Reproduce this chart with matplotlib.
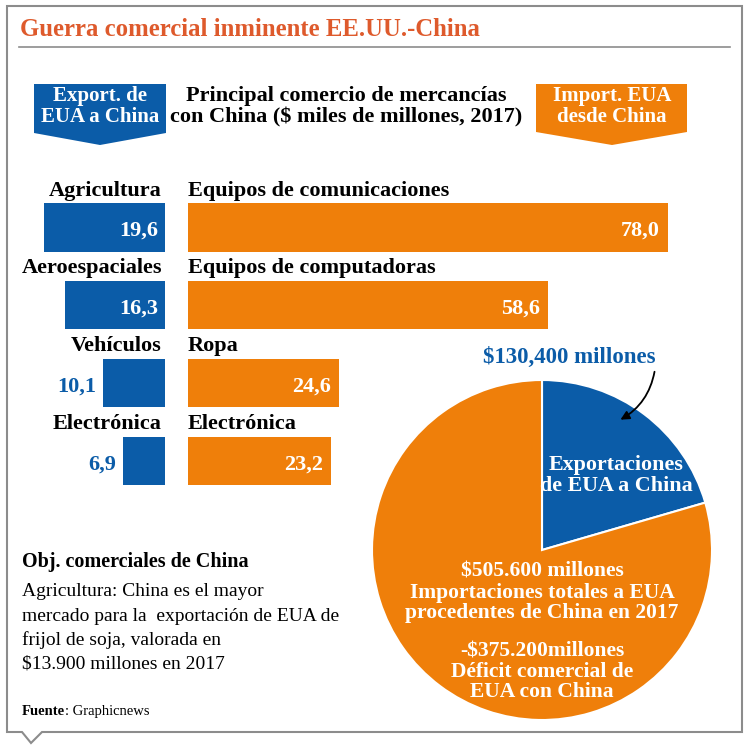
import matplotlib
matplotlib.use('Agg')
import matplotlib.pyplot as plt
from matplotlib.patches import Polygon

plt.rcParams['font.family'] = ['Liberation Serif', 'DejaVu Serif']

# datos
export_cats = ['Agricultura', 'Aeroespaciales', 'Vehículos', 'Electrónica']
export_vals = [19.6, 16.3, 10.1, 6.9]
import_cats = ['Equipos de comunicaciones', 'Equipos de computadoras', 'Ropa', 'Electrónica']
import_vals = [78.0, 58.6, 24.6, 23.2]
pie_vals = [130.4, 505.6]   # exportaciones EUA a China, importaciones desde China

BLUE = '#0B5CA8'
ORANGE = '#EF7F0A'
TITLE_RED = '#DE5A2C'
GRAY = '#8C8C8C'

W, H = 750, 745
SCALE = 6.15      # pixeles por mil millones
ROW_TOP, ROW_BOT = 188.6, 499.9


def px_rect(x0, y0, x1, y1):
    # caja en pixeles (origen arriba a la izquierda) -> fraccion de figura
    return [x0 / W, 1 - y1 / H, (x1 - x0) / W, (y1 - y0) / H]


def fmt(v):
    return f'{v:.1f}'.replace('.', ',')


fig = plt.figure(figsize=(W / 100, H / 100), dpi=100)

# barras de exportacion (eje invertido, crecen hacia la izquierda)
rows = list(range(len(export_cats)))
ax_exp = fig.add_axes(px_rect(165 - 25 * SCALE, ROW_TOP, 165, ROW_BOT))
ax_exp.barh(rows, export_vals, height=0.62, color=BLUE)
ax_exp.set_xlim(25, 0)
ax_exp.set_ylim(len(rows) - 0.5, -0.5)
ax_exp.axis('off')
for i, (cat, v) in enumerate(zip(export_cats, export_vals)):
    ax_exp.text(0.5, i - 0.41, cat, ha='right', va='baseline',
                fontsize=16, fontweight='bold')
    if v > 12:
        ax_exp.text(1.1, i + 0.04, fmt(v), ha='right', va='center',
                    fontsize=16, fontweight='bold', color='white')
    else:
        ax_exp.text(v + 1.1, i + 0.04, fmt(v), ha='right', va='center',
                    fontsize=16, fontweight='bold', color=BLUE)

# barras de importacion
ax_imp = fig.add_axes(px_rect(188, ROW_TOP, 188 + 85 * SCALE, ROW_BOT))
ax_imp.barh(rows, import_vals, height=0.62, color=ORANGE)
ax_imp.set_xlim(0, 85)
ax_imp.set_ylim(len(rows) - 0.5, -0.5)
ax_imp.axis('off')
for i, (cat, v) in enumerate(zip(import_cats, import_vals)):
    ax_imp.text(0, i - 0.41, cat, ha='left', va='baseline',
                fontsize=16, fontweight='bold')
    ax_imp.text(v - 1.3, i + 0.04, fmt(v), ha='right', va='center',
                fontsize=16, fontweight='bold', color='white')

# pastel
ax_pie = fig.add_axes(px_rect(372 - 3.4, 380 - 3.4, 712 + 3.4, 720 + 3.4))
ax_pie.pie(pie_vals, colors=[BLUE, ORANGE], startangle=90, counterclock=False,
           wedgeprops=dict(edgecolor='white', linewidth=1.5))
ax_pie.set_xlim(-1.02, 1.02)
ax_pie.set_ylim(-1.02, 1.02)
ax_pie.set_aspect('equal')

# capa de fondo en pixeles (encima, transparente)
bg = fig.add_axes([0, 0, 1, 1])
bg.set_xlim(0, W)
bg.set_ylim(H, 0)
bg.axis('off')

# marco con pico inferior
frame = Polygon([(7, 6), (742, 6), (742, 732), (42, 732), (31, 743), (22, 732), (7, 732)],
                closed=True, fill=False, edgecolor=GRAY, linewidth=1.5)
bg.add_patch(frame)

bg.text(20, 36, 'Guerra comercial inminente EE.UU.-China', fontsize=17.8,
        fontweight='bold', color=TITLE_RED, ha='left', va='baseline')
bg.plot([19, 730], [47, 47], color=GRAY, lw=1.2)

# encabezados
bg.add_patch(Polygon([(34, 84), (166, 84), (166, 133), (100, 145), (34, 133)],
                     closed=True, color=BLUE, lw=0))
bg.add_patch(Polygon([(536, 84), (687, 84), (687, 132), (612, 145), (536, 132)],
                     closed=True, color=ORANGE, lw=0))
for yb, s in [(101, 'Export. de'), (122, 'EUA a China')]:
    bg.text(100, yb, s, ha='center', va='baseline', fontsize=15,
            fontweight='bold', color='white')
for yb, s in [(101, 'Import. EUA'), (122, 'desde China')]:
    bg.text(612, yb, s, ha='center', va='baseline', fontsize=15,
            fontweight='bold', color='white')
for yb, s in [(101, 'Principal comercio de mercancías'),
              (122, 'con China ($ miles de millones, 2017)')]:
    bg.text(346, yb, s, ha='center', va='baseline', fontsize=16,
            fontweight='bold', color='black')

# textos del pastel
bg.text(569, 357, '$130,400 millones', ha='center', va='center',
        fontsize=16.5, fontweight='bold', color=BLUE)
bg.annotate('', xy=(618, 421), xytext=(655, 369),
            arrowprops=dict(arrowstyle='-|>', color='black', lw=1.3,
                            connectionstyle='arc3,rad=-0.25', mutation_scale=13))
for yc, s in [(465, 'Exportaciones'), (486, 'de EUA a China')]:
    bg.text(616, yc, s, ha='center', va='center', fontsize=15.8,
            fontweight='bold', color='white')
for yc, s in [(572, '$505.600 millones'), (593, 'Importaciones totales a EUA'),
              (613, 'procedentes de China en 2017'), (652, '-$375.200millones'),
              (672, 'Déficit comercial de'), (692, 'EUA con China')]:
    bg.text(542, yc, s, ha='center', va='center', fontsize=15.5,
            fontweight='bold', color='white')

# nota
bg.text(22, 567, 'Obj. comerciales de China', ha='left', va='baseline',
        fontsize=14.5, fontweight='bold')
for yb, s in [(596, 'Agricultura: China es el mayor'),
              (621, 'mercado para la  exportación de EUA de'),
              (645, 'frijol de soja, valorada en'),
              (669, '$13.900 millones en 2017')]:
    bg.text(22, yb, s, ha='left', va='baseline', fontsize=14)

src = bg.text(22, 715, 'Fuente', ha='left', va='baseline', fontsize=10.5,
              fontweight='bold')
bg.annotate(': Graphicnews', xy=(1, 0), xycoords=src, ha='left', va='bottom',
            fontsize=10.5)

fig.savefig('out.png', dpi=100)
